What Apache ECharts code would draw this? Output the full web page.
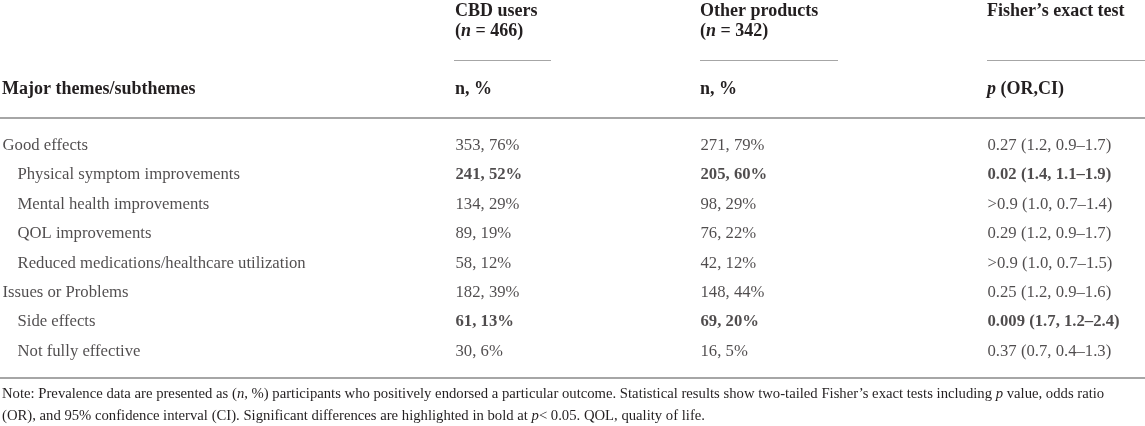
<!DOCTYPE html>
<html>
<head>
<meta charset="utf-8">
<script src="https://cdn.jsdelivr.net/npm/echarts@6/dist/echarts.min.js"></script>
<style>
html, body { margin: 0; padding: 0; background: #fff; }
#main { width: 1145px; height: 426px; }
</style>
</head>
<body>
<div id="main"></div>
<script>
// table rows
var themes = ['Good effects', 'Physical symptom improvements', 'Mental health improvements', 'QOL improvements',
	'Reduced medications/healthcare utilization', 'Issues or Problems', 'Side effects', 'Not fully effective'];
var levels = [0, 1, 1, 1, 1, 0, 1, 1];
var cbdN = [353, 241, 134, 89, 58, 182, 61, 30];
var cbdPct = [76, 52, 29, 19, 12, 39, 13, 6];
var otherN = [271, 205, 98, 76, 42, 148, 69, 16];
var otherPct = [79, 60, 29, 22, 12, 44, 20, 5];
var pValues = ['0.27', '0.02', '>0.9', '0.29', '>0.9', '0.25', '0.009', '0.37'];
var oddsRatios = ['1.2', '1.4', '1.0', '1.2', '1.0', '1.2', '1.7', '0.7'];
var confInts = ['0.9–1.7', '1.1–1.9', '0.7–1.4', '0.9–1.7', '0.7–1.5', '0.9–1.6', '1.2–2.4', '0.4–1.3'];
var significant = [false, true, false, false, false, false, true, false];

var FONT = 'Liberation Serif';
var INK = '#231f20';
var RULE = '#a6a6a6';
var BODY = 16.7, HEAD = 18, NOTE = 14.7;

var chart = echarts.init(document.getElementById('main'));

var columns = [
	{ left: 2, width: 440, text: function(i){ return themes[i]; }, bold: false },
	{ left: 455, width: 240, text: function(i){ return cbdN[i] + ', ' + cbdPct[i] + '%'; }, bold: true },
	{ left: 700, width: 280, text: function(i){ return otherN[i] + ', ' + otherPct[i] + '%'; }, bold: true },
	{ left: 987, width: 156, text: function(i){ return pValues[i] + ' (' + oddsRatios[i] + ', ' + confInts[i] + ')'; }, bold: true }
];

var grids = [], xAxes = [], yAxes = [], series = [];
columns.forEach(function(col, c){
	grids.push({ left: col.left, width: col.width, top: 131, bottom: 60, containLabel: false, outerBoundsMode: 'none' });
	xAxes.push({ type: 'value', gridIndex: c, min: 0, max: 1, show: false });
	yAxes.push({ type: 'category', gridIndex: c, inverse: true, show: false, data: themes });
	series.push({
		type: 'scatter',
		xAxisIndex: c,
		yAxisIndex: c,
		symbolSize: 1,
		itemStyle: { color: 'rgba(0,0,0,0)' },
		silent: true,
		label: {
			show: true,
			position: 'right',
			distance: 0,
			fontFamily: FONT,
			fontSize: BODY,
			color: INK,
			rich: { sub: { fontFamily: FONT, fontSize: BODY, color: INK, padding: [0, 0, 0, 15] } }
		},
		data: themes.map(function(t, i){
			var txt = col.text(i);
			if (c === 0 && levels[i] === 1) txt = '{sub|' + txt + '}';
			return {
				value: [0, i],
				label: { formatter: txt, fontWeight: (col.bold && significant[i]) ? 'bold' : 'normal' }
			};
		})
	});
});

var headFont = 'bold ' + HEAD + 'px "' + FONT + '"';
var noteFont = NOTE + 'px "' + FONT + '"';
function txt(x, y, text, font, rich) {
	return { type: 'text', x: x, y: y, silent: true,
		style: { text: text, font: font, fill: INK, align: 'left', verticalAlign: 'middle', rich: rich || {} } };
}
function rule(x1, x2, y, w) {
	return { type: 'line', silent: true, shape: { x1: x1, y1: y, x2: x2, y2: y }, style: { stroke: RULE, lineWidth: w } };
}
var headRich = { i: { font: 'italic bold ' + HEAD + 'px "' + FONT + '"', fill: INK } };
var noteRich = { i: { font: 'italic ' + NOTE + 'px "' + FONT + '"', fill: INK } };

var graphic = [
	txt(455, 11, 'CBD users', headFont),
	txt(455, 31, '({i|n} = 466)', headFont, headRich),
	txt(700, 11, 'Other products', headFont),
	txt(700, 31, '({i|n} = 342)', headFont, headRich),
	txt(987, 11, 'Fisher’s exact test', headFont),
	rule(454, 551, 60.5, 1),
	rule(700, 838, 60.5, 1),
	rule(987, 1145, 60.5, 1),
	txt(2, 89.5, 'Major themes/subthemes', headFont),
	txt(455, 89.5, 'n, %', headFont),
	txt(700, 89.5, 'n, %', headFont),
	txt(987, 89.5, '{i|p} (OR,CI)', headFont, headRich),
	rule(0, 1145, 118, 2),
	rule(0, 1145, 378, 2),
	txt(2, 394, 'Note: Prevalence data are presented as ({i|n}, %) participants who positively endorsed a particular outcome. Statistical results show two-tailed Fisher’s exact tests including {i|p} value, odds ratio', noteFont, noteRich),
	txt(2, 416, '(OR), and 95% confidence interval (CI). Significant differences are highlighted in bold at {i|p}< 0.05. QOL, quality of life.', noteFont, noteRich)
];

chart.setOption({
	animation: false,
	grid: grids,
	xAxis: xAxes,
	yAxis: yAxes,
	series: series,
	graphic: graphic
});
</script>
</body>
</html>
